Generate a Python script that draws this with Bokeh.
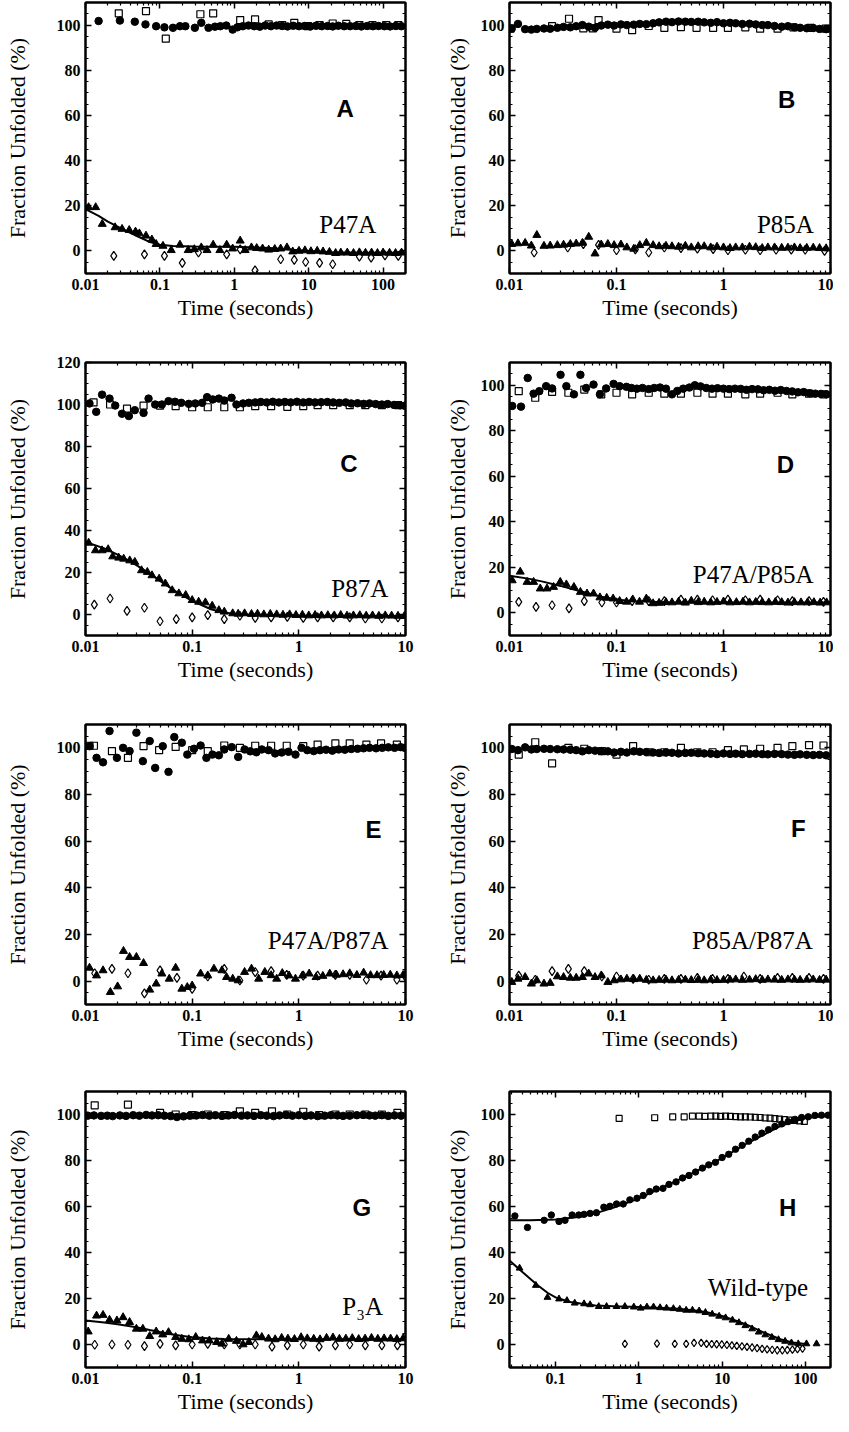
from bokeh.plotting import figure
from bokeh.models import (Range1d, LogAxis, LinearAxis, FixedTicker, SingleIntervalTicker,
                          CustomJSTickFormatter, Label)
from bokeh.layouts import column, row
from bokeh.embed import file_html
from bokeh.resources import INLINE

# ---------------- shared time grid (seconds) ----------------
t_grid = [0.0105, 0.012, 0.014, 0.016, 0.018, 0.021, 0.024, 0.028, 0.032, 0.037,
          0.042, 0.048, 0.055, 0.063, 0.072, 0.083, 0.095, 0.11, 0.125, 0.145,
          0.165, 0.19, 0.22, 0.25, 0.29, 0.33, 0.38, 0.44, 0.5, 0.58,
          0.66, 0.76, 0.87, 1.0, 1.15, 1.3, 1.5, 1.75, 2.0, 2.3,
          2.6, 3.0, 3.5, 4.0, 4.6, 5.2, 6.0, 6.9, 7.9, 9.1]

# ---------------- Panel A : P47A ----------------
cA_t = [0.015, 0.029, 0.046, 0.064, 0.089, 0.115, 0.15, 0.186, 0.22, 0.295, 0.36, 0.45, 0.55, 0.65, 0.78,
        0.95, 1.1, 1.3, 1.55, 1.85, 2.2, 2.6, 3.1, 3.7, 4.4, 5.2, 6.2, 7.4, 8.8, 10.5, 12.5, 15, 18, 21,
        25, 30, 36, 43, 51, 61, 73, 87, 104, 124, 148, 176]
cA_y = [101.8, 102, 101.5, 100.3, 99.5, 99, 98.8, 99.5, 99.5, 98.8, 101, 98.8, 99.3, 99.5, 99.8,
        98, 99, 99.5, 99.8, 99.5, 99.3, 99.8, 99.5, 99.8, 99.6, 99.4, 99.7, 99.5, 99.6, 99.4, 99.7, 99.5, 99.6, 99.4,
        99.7, 99.5, 99.5, 99.6, 99.4, 99.6, 99.5, 99.6, 99.5, 99.4, 99.6, 99.5]
sA_t = [0.028, 0.065, 0.12, 0.35, 0.52, 1.2, 1.9, 2.9, 4.4, 6.4, 9.8, 14, 21, 32, 48, 72, 110, 160]
sA_y = [105.2, 106.2, 94, 104.8, 105.2, 102.2, 102.5, 100.3, 100, 101, 99.5, 100, 100.7, 100.5, 100, 100, 100, 100]
tA_t = [0.011, 0.0137, 0.0168, 0.025, 0.031, 0.0387, 0.047, 0.053, 0.065, 0.078,
        0.089, 0.11, 0.142, 0.186, 0.24, 0.29, 0.36, 0.43, 0.52, 0.64,
        0.79, 0.95, 1.2, 1.4, 1.7, 2.0, 2.4, 2.9, 3.5, 4.2,
        5.1, 6.1, 7.4, 8.9, 10.7, 13, 15.6, 19, 23, 27,
        33, 40, 48, 58, 70, 84, 100, 122, 147, 177]
tA_y = [19.3, 19.3, 11.9, 10.4, 9.7, 9.2, 8.5, 7.7, 6.7, 5.0,
        3.0, 2.2, 0.3, 2.7, 0.3, 0.7, 1.5, 0.3, 2.7, 0.3,
        2.7, 1.0, 4.5, 0.3, 1.5, 1.2, 1.0, 0.5, 0.8, 1.0,
        1.5, -0.3, 0.0, 0.2, -0.2, 0.0, -0.3, -0.5, -1.0, -0.8,
        -0.8, -1.0, -0.7, -0.9, -0.8, -1.0, -0.8, -0.9, -1.0, -0.8]
dA_t = [0.024, 0.062, 0.115, 0.2, 0.33, 0.79, 1.2, 1.9, 4.2, 6.4, 9.1, 14, 21, 48, 69, 106, 160]
dA_y = [-2.2, -1.5, -2.2, -5.3, -0.7, -1.5, 0.7, -8.6, -3.7, -4.0, -4.9, -5.3, -5.9, -2.5, -3.0, -2.0, -2.2]
fA_t = [0.01, 0.015, 0.02, 0.03, 0.04, 0.05, 0.07, 0.1, 0.15, 0.3, 1, 3, 6, 10, 20, 50, 200]
fA_y = [18.5, 15.5, 13, 10, 8, 6.5, 4.2, 2.7, 2.2, 2, 1.8, 1.3, 0.5, 0, -0.6, -0.8, -0.8]

# ---------------- Panel B : P85A ----------------
cB_y = [98.5, 100.5, 98.2, 98.0, 98.3, 98.5, 98.4, 98.8, 99.2, 99.0,
        99.5, 100.0, 99.3, 98.8, 99.8, 100.2, 99.8, 100.3, 100.0, 100.2,
        100.5, 100.4, 100.8, 101.2, 101.5, 101.3, 101.6, 101.5, 101.4, 101.5,
        101.2, 101.0, 101.3, 100.8, 101.0, 100.8, 100.5, 100.6, 100.3, 100.0,
        100.0, 99.6, 99.3, 99.5, 99.0, 98.8, 98.6, 98.7, 98.3, 98.2]
sB_t = [0.0102, 0.025, 0.036, 0.049, 0.06, 0.068, 0.1, 0.14, 0.2, 0.28, 0.4, 0.56, 0.8, 1.1, 1.6, 2.2, 3.2, 4.5, 6.5, 9.0]
sB_y = [98.4, 99.5, 102.8, 98.5, 98.5, 102.2, 98.4, 97.8, 99.6, 98.8, 99.1, 98.8, 98.8, 98.8, 99.0, 98.4, 98.4, 99.0, 98.8, 98.4]
tB_y = [3.0, 3.3, 3.5, 2.3, 7.0, 2.2, 2.3, 2.5, 2.7, 3.0,
        3.2, 3.5, 6.2, -1.2, 2.8, 3.0, 2.5, 2.8, 1.5, 0.9,
        2.5, 3.5, 2.5, 2.0, 2.2, 2.0, 1.8, 2.2, 1.5, 2.0,
        2.0, 1.5, 1.8, 1.5, 1.2, 1.5, 1.5, 1.8, 1.6, 1.2,
        1.5, 1.5, 1.3, 1.4, 1.5, 1.2, 1.3, 1.4, 1.2, 1.1]
dB_t = [0.017, 0.035, 0.049, 0.068, 0.1, 0.15, 0.2, 0.28, 0.4, 0.57, 0.8, 1.1, 1.6, 2.2, 3.1, 4.3, 5.8, 8.8]
dB_y = [-0.7, 1.5, 3.0, 2.7, 0.3, 0.7, -0.7, 1.5, 1.2, 1.0, 0.8, 0.3, 0.5, 0.3, 0.5, 0.6, 0.5, 0.0]

# ---------------- Panel C : P87A ----------------
cC_t = [0.0109, 0.0126, 0.0143, 0.0168, 0.019, 0.022, 0.0255, 0.029, 0.035, 0.039, 0.045, 0.052, 0.06, 0.069,
        0.079, 0.093, 0.107, 0.124, 0.138, 0.156, 0.178, 0.2, 0.234, 0.26,
        0.3, 0.34, 0.39, 0.44, 0.5, 0.57, 0.65, 0.74, 0.84, 0.96, 1.1, 1.25, 1.42, 1.62, 1.85,
        2.1, 2.4, 2.75, 3.1, 3.55, 4.05, 4.6, 5.25, 6.0, 6.8, 7.8, 8.9, 9.8]
cC_y = [100.5, 96.5, 104.7, 102.8, 99.5, 95.6, 94.5, 97.3, 96, 102.8, 100, 100, 101.6, 101.3,
        100.8, 100.3, 100.5, 100.8, 103.5, 102.4, 102.8, 101.9, 103.2, 100,
        100.5, 100.8, 101, 101.2, 101, 101.3, 101, 101.2, 101, 101.3, 101, 101.2, 101, 101.1, 101.2,
        101, 100.8, 101, 100.5, 100.6, 100.3, 100.5, 100.2, 100, 100.2, 99.8, 99.6, 99.4]
sC_t = [0.0119, 0.017, 0.0245, 0.035, 0.05, 0.07, 0.1, 0.14, 0.2, 0.28, 0.39, 0.55, 0.78, 1.1, 1.5, 2.1, 3.0, 4.2, 6.0, 8.5]
sC_y = [101, 100, 98, 99.5, 99.5, 99.2, 98.7, 98.7, 98.7, 98.7, 99.2, 99.2, 98.9, 99.2, 99.7, 99.7, 99.7, 99.7, 99.7, 99.7]
tC_t = [0.0107, 0.0124, 0.0143, 0.0163, 0.018, 0.0205, 0.0228, 0.026, 0.029, 0.0335,
        0.038, 0.042, 0.049, 0.056, 0.065, 0.075, 0.087, 0.1, 0.115, 0.133,
        0.154, 0.178, 0.2, 0.24, 0.27, 0.31, 0.36, 0.41, 0.47, 0.54,
        0.62, 0.71, 0.82, 0.94, 1.08, 1.24, 1.42, 1.63, 1.87, 2.15,
        2.47, 2.83, 3.25, 3.73, 4.28, 4.91, 5.63, 6.46, 7.41, 8.5, 9.75]
tC_y = [34.1, 30.5, 30.5, 31, 27.6, 27, 26.5, 25.7, 25, 21,
        20.2, 18.6, 17, 14.7, 11.5, 10, 9.2, 6.8, 6, 5.7,
        4.1, 2, 1.3, 0.5, 0.3, 0.5, 0.2, 0.3, 0, 0.2,
        0, -0.2, 0, -0.3, -0.2, -0.5, -0.3, -0.5, -0.4, -0.5,
        -0.3, -0.6, -0.5, -0.4, -0.6, -0.5, -0.7, -0.5, -0.6, -0.7, -0.8]
dC_t = [0.0121, 0.017, 0.0245, 0.0357, 0.05, 0.071, 0.1, 0.14, 0.2, 0.28, 0.39, 0.55, 0.78, 1.1, 1.5, 2.1, 3.0, 4.2, 6.0, 8.5]
dC_y = [4.7, 7.6, 1.7, 3.2, -3.2, -2.2, -1.4, -0.3, -2.2, -0.6, -1.6, -1.4, -1.1, -1.6, -1.4, -1.4, -1.4, -1.9, -1.9, -1.4]
fC_t = [0.01, 0.015, 0.02, 0.03, 0.04, 0.05, 0.07, 0.1, 0.15, 0.2, 0.3, 1, 10]
fC_y = [34.5, 31.5, 28.5, 23.5, 19.5, 16, 11, 6.5, 2.5, 0.8, 0, -0.5, -0.7]

# ---------------- Panel D : P47A/P85A ----------------
cD_t = [0.0106, 0.0128, 0.0148, 0.0168, 0.019, 0.022, 0.025, 0.03, 0.034, 0.04,
        0.046, 0.052, 0.061, 0.07, 0.08, 0.094, 0.107, 0.124, 0.138, 0.155,
        0.175, 0.2, 0.225, 0.255, 0.29, 0.33, 0.37, 0.42, 0.48, 0.54,
        0.61, 0.69, 0.78, 0.88, 1.0, 1.13, 1.28, 1.45, 1.64, 1.85,
        2.1, 2.37, 2.68, 3.03, 3.43, 3.88, 4.39, 4.97, 5.62, 6.36, 7.2, 8.15, 9.2]
cD_y = [90.9, 90.6, 103.2, 96.3, 97.4, 99.6, 98.6, 104.6, 99.6, 96,
        104.6, 98.8, 100.3, 96, 98.6, 100.6, 99.6, 99.3, 98.8, 98.5,
        98.8, 98.3, 98.8, 99, 98.5, 96, 97.5, 98.5, 99, 100,
        99.5, 98.8, 98.5, 98.7, 98.5, 98.3, 98.5, 98.4, 98, 98.3,
        98.2, 97.8, 98, 97.6, 97.9, 97.5, 97.3, 96.9, 97, 96.5, 96.3, 96.2, 96]
sD_t = [0.0122, 0.0174, 0.025, 0.0355, 0.05, 0.072, 0.1, 0.14, 0.2, 0.28, 0.4, 0.57, 0.79, 1.1, 1.6, 2.2, 3.2, 4.4, 6.3, 8.6]
sD_y = [97.4, 94.5, 97.1, 96.7, 98.1, 96, 96.7, 96, 96.7, 96.3, 96.3, 96.7, 96.3, 96.3, 96, 96.3, 96.7, 96, 96.3, 96]
tD_t = [0.0106, 0.0126, 0.0146, 0.0168, 0.0194, 0.0224, 0.0258, 0.0298, 0.034, 0.04,
        0.046, 0.053, 0.061, 0.07, 0.081, 0.093, 0.107, 0.124, 0.142, 0.164,
        0.19, 0.22, 0.25, 0.29, 0.33, 0.38, 0.44, 0.5, 0.58, 0.66,
        0.76, 0.87, 1.0, 1.15, 1.32, 1.52, 1.75, 2.0, 2.3, 2.65,
        3.05, 3.5, 4.0, 4.6, 5.3, 6.1, 7.0, 8.0, 9.2]
tD_y = [14.2, 18, 13.5, 13.5, 10.6, 10.6, 11.3, 13.5, 12.4, 11.3,
        9.1, 8.4, 8.4, 6.7, 6.5, 6.2, 5.1, 4.8, 5.8, 4.8,
        6.2, 4.1, 4.3, 4.6, 4.5, 4.8, 4.4, 5.2, 4.6, 4.8,
        4.5, 4.7, 4.9, 4.5, 4.6, 4.8, 4.5, 4.7, 4.6, 4.5,
        4.7, 4.6, 4.4, 4.6, 4.5, 4.5, 4.6, 4.4, 4.5]
dD_t = [0.0122, 0.0177, 0.025, 0.036, 0.05, 0.073, 0.1, 0.14, 0.2, 0.28, 0.4, 0.57, 0.79, 1.1, 1.6, 2.2, 3.2, 4.4, 6.3, 8.6]
dD_y = [4.8, 2.6, 3.3, 1.9, 5.1, 4.5, 4.5, 5.1, 5.1, 5.1, 5.8, 5.8, 5.5, 5.8, 5.5, 5.8, 5.5, 5.1, 5.1, 4.8]
fD_t = [0.01, 0.015, 0.02, 0.03, 0.04, 0.05, 0.07, 0.1, 0.15, 0.3, 1, 10]
fD_y = [16.3, 15, 13.8, 11.8, 10.2, 9, 7.2, 5.8, 5, 4.6, 4.5, 4.5]

# ---------------- Panel E : P47A/P87A ----------------
cE_t = [0.0109, 0.0127, 0.0146, 0.0168, 0.0197, 0.0225, 0.0259, 0.03, 0.0345, 0.04,
        0.045, 0.053, 0.06, 0.068, 0.08, 0.09, 0.104, 0.12, 0.136, 0.155,
        0.178, 0.2, 0.235, 0.27, 0.31, 0.35, 0.4, 0.45, 0.52, 0.6,
        0.69, 0.8, 0.93, 1.06, 1.2, 1.38, 1.58, 1.8, 2.06, 2.36,
        2.7, 3.1, 3.55, 4.05, 4.6, 5.3, 6.05, 6.9, 7.9, 9.0, 9.8]
cE_y = [100.7, 95.7, 93.8, 107.2, 95.7, 100, 98.6, 106.5, 94.3, 102.9,
        91.4, 100.7, 89.7, 104.6, 102.2, 97.1, 99.6, 101, 95.7, 97.1,
        96.8, 99.3, 100.3, 96.1, 99.3, 98.5, 98.1, 99.3, 99, 97.6,
        98, 98.3, 97.1, 100, 99, 98.6, 99, 99.2, 98.8, 99.3,
        99.2, 99.5, 99.6, 99.8, 100, 99.8, 100, 100.2, 100, 100.3, 100]
sE_t = [0.0109, 0.012, 0.0177, 0.025, 0.035, 0.049, 0.07, 0.1, 0.14, 0.2, 0.28, 0.39, 0.55, 0.77, 1.1, 1.5, 2.2, 3.0, 4.3, 5.9, 8.3]
sE_y = [100.9, 100.9, 98.6, 95.7, 100.7, 99, 100.4, 99, 98.6, 101, 100, 100.9, 100.9, 100.9, 100.7, 101.4, 101.9, 101.9, 101.4, 101.9, 101.4]
tE_t = [0.0109, 0.0127, 0.0146, 0.0171, 0.02, 0.0227, 0.0259, 0.03, 0.035, 0.04,
        0.046, 0.052, 0.061, 0.07, 0.08, 0.09, 0.1, 0.12, 0.14, 0.16,
        0.19, 0.21, 0.24, 0.27, 0.31, 0.36, 0.42, 0.48, 0.55, 0.62,
        0.7, 0.81, 0.93, 1.08, 1.25, 1.45, 1.68, 1.95, 2.25, 2.6,
        3.0, 3.5, 4.05, 4.7, 5.4, 6.25, 7.2, 8.3, 9.5]
tE_y = [5.7, 2.4, 4.6, -4.7, -2.3, 12.9, 10.3, 10.3, 7.7, -3.7,
        -1.1, 3.2, 1, 5.7, -3.3, -2.6, -1.9, 3.2, 2.4, 5.3,
        4.6, 1.7, 1, 0.3, 3.9, 5.3, 1, 3.9, 2.5, 1,
        3.4, 2.4, 1, 2.4, 3.2, 1.7, 2.2, 3.2, 2.7, 2.9,
        3.3, 2.6, 3.6, 2.5, 2.5, 2.6, 2.7, 2.4, 2.6]
dE_t = [0.0122, 0.0177, 0.025, 0.0357, 0.05, 0.072, 0.1, 0.14, 0.2, 0.28, 0.39, 0.55, 0.77, 1.1, 1.5, 2.2, 3.0, 4.3, 5.9, 8.3, 9.8]
dE_y = [3.4, 5.3, 3.4, -5.2, 4.6, 1.4, -3.3, 2, 5.3, 0.3, 3.9, 4.3, 2.7, 2.4, 2.4, 2.7, 2.7, 0.6, 2.4, 0.6, 2.4]

# ---------------- Panel F : P85A/P87A ----------------
cF_y = [99.5, 99.0, 100.2, 99.3, 99.5, 99.6, 99.5, 99.4, 99.3, 99.2,
        99.0, 98.5, 99.0, 98.8, 98.6, 98.5, 98.0, 98.3, 98.0, 98.5,
        98.3, 98.2, 98.0, 97.8, 98.0, 97.9, 97.6, 97.8, 97.9, 97.7,
        97.6, 97.5, 97.3, 97.6, 97.4, 97.5, 97.3, 97.4, 97.5, 97.3,
        97.2, 97.4, 97.3, 97.1, 97.0, 97.2, 97.0, 96.9, 97.0, 96.8]
sF_t = [0.0122, 0.0174, 0.025, 0.0355, 0.05, 0.073, 0.1, 0.143, 0.2, 0.28, 0.4, 0.57, 0.79, 1.1, 1.55, 2.2, 3.2, 4.4, 6.3, 8.6]
sF_y = [97.1, 102.4, 93.3, 100, 99.6, 98.6, 97.1, 100.7, 98.1, 98.1, 100, 98.1, 98.1, 99, 99.3, 99.6, 100, 100.7, 101.2, 101]
tF_y = [-0.4, 1.0, 1.7, -1.1, 0.3, -1.1, -0.8, 2.0, 1.7, 1.4,
        1.4, 1.7, 3.2, 1.7, 2.4, -0.4, 0.3, 0.7, 1.0, 0.8,
        1.0, 0.5, 0.3, 0.5, 0.6, 0.3, 0.5, 0.6, 0.4, 0.5,
        0.3, 0.6, 0.4, 0.5, 0.6, 0.7, 0.5, 0.6, 0.8, 0.5,
        0.7, 0.6, 0.5, 0.7, 0.6, 0.5, 0.6, 0.7, 0.5, 0.6]
dF_t = [0.0122, 0.0174, 0.025, 0.0355, 0.05, 0.073, 0.1, 0.143, 0.2, 0.28, 0.4, 0.57, 0.79, 1.1, 1.55, 2.2, 3.2, 4.4, 6.3, 8.6]
dF_y = [2.4, 0.6, 4.3, 5.3, 4.3, 2, 2, 1, 0.6, 1, 1, 1.4, 1, 1, 2, 1, 1.4, 1.4, 1.4, 1]

# ---------------- Panel G : P3A ----------------
cG_y = [99.5, 99.6, 99.4, 99.5, 99.3, 99.6, 99.4, 99.7, 99.5, 99.8,
        99.6, 99.7, 99.5, 99.3, 98.9, 99.2, 99.5, 99.6, 99.8, 99.5,
        99.7, 99.4, 99.6, 99.8, 99.5, 99.6, 99.4, 99.7, 99.5, 99.3,
        99.6, 99.8, 99.5, 99.7, 99.4, 99.6, 99.3, 99.5, 99.7, 99.6,
        99.4, 99.5, 99.7, 99.8, 99.6, 99.5, 99.7, 99.4, 99.6, 99.5]
sG_t = [0.0122, 0.025, 0.05, 0.07, 0.1, 0.14, 0.2, 0.28, 0.39, 0.56, 0.78, 1.1, 1.55, 2.2, 3.0, 4.2, 6.0, 8.4]
sG_y = [104, 104.3, 100.7, 100, 99.7, 100, 99.7, 101.4, 100.7, 101.4, 100, 101.2, 99.7, 100, 100, 100, 100, 100.7]
tG_t = [0.0106, 0.0127, 0.0146, 0.0168, 0.0197, 0.0225, 0.0259, 0.03, 0.0345, 0.04,
        0.046, 0.053, 0.06, 0.07, 0.08, 0.093, 0.108, 0.125, 0.145, 0.17,
        0.19, 0.22, 0.26, 0.3, 0.34, 0.4, 0.45, 0.52, 0.6, 0.69,
        0.79, 0.91, 1.05, 1.2, 1.38, 1.58, 1.82, 2.09, 2.4, 2.76,
        3.17, 3.64, 4.18, 4.8, 5.5, 6.3, 7.25, 8.3, 9.5]
tG_y = [5.6, 12.5, 12.8, 10.7, 10.4, 11.8, 9.7, 6.8, 6.8, 3.6,
        5.6, 4.3, 5.3, 3.2, 2.4, 2.2, 3.2, 1.7, 1.7, 1,
        0.3, 2.4, 1.5, 0, 1, 3.9, 3.2, 2.5, 2.2, 2.8,
        2.5, 2.3, 3.1, 2.6, 2.4, 2.2, 2.8, 3.0, 2.4, 2.5,
        2.7, 2.3, 2.5, 2.8, 2.4, 2.6, 2.5, 2.3, 2.6]
dG_t = [0.0122, 0.0177, 0.025, 0.0357, 0.05, 0.07, 0.1, 0.14, 0.2, 0.28, 0.39, 0.56, 0.78, 1.1, 1.55, 2.2, 3.0, 4.2, 6.0, 8.4]
dG_y = [-0.1, 0, -0.1, -0.7, 0.3, -0.4, 0, 0.3, 0, 0, 0, -0.9, -0.4, 0, -0.9, -0.4, 0, -0.4, -0.4, -0.4]
fG_t = [0.01, 0.015, 0.02, 0.03, 0.04, 0.05, 0.07, 0.1, 0.15, 0.2, 0.5, 10]
fG_y = [10.4, 9.6, 8.8, 7.5, 6.3, 5.4, 4.1, 3.2, 2.6, 2.4, 2.3, 2.3]

# ---------------- Panel H : Wild-type ----------------
cH_t = [0.0325, 0.046, 0.073, 0.089, 0.11, 0.13, 0.158, 0.19, 0.22, 0.26,
        0.31, 0.38, 0.45, 0.54, 0.65, 0.78, 0.95, 1.13, 1.35, 1.62,
        1.95, 2.3, 2.8, 3.35, 4, 4.8, 5.8, 6.9, 8.3, 10,
        12, 14.5, 17.4, 20.9, 25, 30, 36, 43, 52, 62,
        75, 90, 108, 130, 156, 187]
cH_y = [55.9, 50.9, 54, 56.3, 53.5, 54, 56.3, 56.3, 56.6, 57,
        57.3, 59.7, 60.1, 61.1, 61.1, 62.9, 63.6, 64.8, 66.5, 67.6,
        67.9, 69.6, 70.7, 72.4, 73.5, 75, 76.7, 78.1, 79.2, 81.3,
        82.7, 84.9, 86.6, 88.4, 90.2, 91.9, 93.4, 94.8, 95.9, 96.9,
        97.9, 98.7, 99, 99.6, 99.7, 99.7]
fHc_t = [0.028, 0.05, 0.1, 0.2, 0.3, 0.5, 1, 2, 5, 10, 20, 50, 100, 200]
fHc_y = [54, 54, 54.3, 55.5, 57, 59.5, 63.5, 68.5, 75.5, 81, 87.5, 95, 98.5, 99.5]
sH_t = [0.58, 1.55, 2.55, 3.5, 4.4, 5.3, 6.2, 7.3, 8.4, 9.6, 11, 12.6, 14.5, 16.6, 19,
        21.8, 25, 28.6, 32.8, 37.6, 43, 49, 56, 65, 74, 85, 97]
sH_y = [98.3, 98.6, 99, 99, 99.3, 99.3, 99.2, 99.3, 99.3, 99.2, 99.3, 99.2, 99.1, 99, 99,
        98.9, 98.8, 98.7, 98.5, 98.4, 98.2, 98, 97.8, 97.6, 97.4, 97.2, 97]
tH_t = [0.037, 0.058, 0.08, 0.11, 0.137, 0.17, 0.22, 0.26, 0.33, 0.41,
        0.54, 0.68, 0.87, 1.05, 1.25, 1.5, 1.8, 2.15, 2.6, 3.1,
        3.7, 4.4, 5.3, 6.3, 7.6, 9.2, 11, 13.3, 15.9, 19,
        22.9, 27.5, 33, 39.6, 47.5, 57, 68, 82, 103, 136]
tH_y = [33.2, 25.7, 20.5, 19.8, 19.1, 18, 17.7, 17.3, 16.5, 16.5,
        16.5, 16.5, 16.3, 15.8, 16.3, 16.3, 16, 15.8, 15.6, 15.3,
        14.9, 14.9, 14.6, 13.9, 13.2, 12.3, 11.6, 10.6, 9.5, 8.2,
        6.8, 5.4, 4.2, 3.1, 2.1, 1.4, 0.7, 0.3, 0.3, 0.3]
fHt_t = [0.028, 0.04, 0.06, 0.08, 0.1, 0.15, 0.2, 0.3, 0.5, 1, 2, 3, 5, 7, 10, 15, 20, 30, 50, 70, 100]
fHt_y = [36.5, 31.5, 26, 22.5, 20.5, 18.5, 17.8, 17, 16.6, 16.3, 15.9, 15.5, 14.7, 13.8, 12.4, 10.2, 8.5, 5.6, 2.3, 0.9, 0.2]
dH_t = [0.68, 1.65, 2.7, 3.7, 4.6, 5.6, 6.5, 7.5, 8.6, 9.9, 11.4, 13.1, 15, 17.3, 19.9,
        22.9, 26.3, 30.2, 34.7, 39.9, 45.9, 52.8, 60.7, 69.8, 80.3, 92.3]
dH_y = [0.3, 0.4, 0.3, 0.3, 0.7, 0.7, 0.3, 0.2, 0.1, 0, -0.2, -0.4, -0.6, -0.8, -1.0,
        -1.3, -1.6, -1.9, -2.1, -2.3, -2.5, -2.5, -2.4, -2.2, -2.0, -1.8]

# ---------------- panel texts ----------------
letters = ["A", "B", "C", "D", "E", "F", "G", "H"]
letter_x = [31, 3.9, 2.95, 3.8, 5.0, 5.0, 3.9, 61]
letter_y = [63, 67, 72, 65, 65, 65.6, 59.4, 59.7]
names = ["P47A", "P85A", "P87A", "P47A/P85A", "P47A/P87A", "P85A/P87A", "P\u2083A", "Wild-type"]
name_x = [81, 7.0, 6.9, 6.95, 6.95, 6.85, 6.15, 108]
name_y = [11.9, 11.9, 12.3, 16.6, 17.5, 17.5, 16.4, 24.8]

SERIF = "Liberation Serif"
minor_log = [m * 10.0 ** k for k in range(-3, 3) for m in range(2, 10)]


def style_axis(ax, with_labels=False):
    ax.axis_line_width = 2
    ax.axis_line_color = "black"
    ax.major_tick_in = 6
    ax.major_tick_out = 0
    ax.minor_tick_in = 3
    ax.minor_tick_out = 0
    ax.major_tick_line_width = 1.5
    ax.minor_tick_line_width = 1.2
    ax.major_tick_line_color = "black"
    ax.minor_tick_line_color = "black"
    if with_labels:
        ax.major_label_text_font = SERIF
        ax.major_label_text_font_style = "bold"
        ax.major_label_text_font_size = "16px"
        ax.major_label_text_color = "black"
        ax.major_label_standoff = 5
        ax.axis_label_text_font = SERIF
        ax.axis_label_text_font_style = "normal"
        ax.axis_label_text_font_size = "22px"
        ax.axis_label_text_color = "black"
    else:
        ax.major_label_text_font_size = "0px"
        ax.major_label_standoff = 0
        ax.axis_label = None


def make_panel(idx, xmin, xmax, ymax, xmajor, width, height, bl, br, bt, bb, ystand):
    p = figure(width=width, height=height, x_axis_type="log",
               x_range=Range1d(xmin, xmax), y_range=Range1d(-10, ymax),
               output_backend="svg", toolbar_location=None,
               min_border_left=bl, min_border_right=br, min_border_top=bt, min_border_bottom=bb)
    p.grid.visible = False
    p.outline_line_color = "black"
    p.outline_line_width = 2
    p.background_fill_color = "white"
    p.border_fill_color = "white"

    xa = p.xaxis[0]
    xa.ticker = FixedTicker(ticks=xmajor, minor_ticks=minor_log)
    xa.formatter = CustomJSTickFormatter(code="return String(tick);")
    style_axis(xa, True)
    xa.axis_label = "Time (seconds)"
    xa.axis_label_standoff = 2

    ya = p.yaxis[0]
    ya.ticker = SingleIntervalTicker(interval=20, num_minor_ticks=4)
    style_axis(ya, True)
    ya.axis_label = "Fraction Unfolded (%)"
    ya.axis_label_standoff = ystand

    top = LogAxis(ticker=FixedTicker(ticks=xmajor, minor_ticks=minor_log),
                  formatter=CustomJSTickFormatter(code="return '';"))
    style_axis(top)
    p.add_layout(top, "above")
    right = LinearAxis(ticker=SingleIntervalTicker(interval=20, num_minor_ticks=4),
                       formatter=CustomJSTickFormatter(code="return '';"))
    style_axis(right)
    p.add_layout(right, "right")

    p.add_layout(Label(x=letter_x[idx], y=letter_y[idx], text=letters[idx],
                       text_font="Liberation Sans", text_font_style="bold", text_font_size="24px",
                       text_align="center", text_baseline="middle", text_color="black"))
    p.add_layout(Label(x=name_x[idx], y=name_y[idx], text=names[idx],
                       text_font=SERIF, text_font_size="25px",
                       text_align="right", text_baseline="middle", text_color="black"))
    return p


def add_series(p, circ, squ, tri, dia, fits, small=False):
    k = 0.85 if small else 1.0
    if circ:
        p.scatter(circ[0], circ[1], marker="circle", size=7.5 * k, color="black")
    if squ:
        p.scatter(squ[0], squ[1], marker="square", size=7 * k, fill_color=None,
                  line_color="black", line_width=1.2)
    if tri:
        p.scatter(tri[0], tri[1], marker="triangle", size=8 * k, color="black")
    if dia:
        p.scatter(dia[0], dia[1], marker="diamond", size=9 * k, fill_color=None,
                  line_color="black", line_width=1.2)
    for f in fits:
        p.line(f[0], f[1], line_color="black", line_width=2)


dec3 = [0.01, 0.1, 1, 10]
LW, RW = 417, 416

pA = make_panel(0, 0.01, 200, 110, [0.01, 0.1, 1, 10, 100], LW, 337, 85, 12, 2, 64, 24)
add_series(pA, (cA_t, cA_y), (sA_t, sA_y), (tA_t, tA_y), (dA_t, dA_y), [(fA_t, fA_y)])
pB = make_panel(1, 0.01, 10, 110, dec3, RW, 337, 92, 3, 2, 64, 8)
add_series(pB, (t_grid, cB_y), (sB_t, sB_y), (t_grid, tB_y), (dB_t, dB_y), [])

pC = make_panel(2, 0.01, 10, 120, dec3, LW, 360, 85, 12, 25, 62, 24)
add_series(pC, (cC_t, cC_y), (sC_t, sC_y), (tC_t, tC_y), (dC_t, dC_y), [(fC_t, fC_y)])
pD = make_panel(3, 0.01, 10, 110, dec3, RW, 360, 92, 3, 22, 61, 8)
add_series(pD, (cD_t, cD_y), (sD_t, sD_y), (tD_t, tD_y), (dD_t, dD_y), [(fD_t, fD_y)])

pE = make_panel(4, 0.01, 10, 110, dec3, LW, 360, 85, 12, 27, 53, 24)
add_series(pE, (cE_t, cE_y), (sE_t, sE_y), (tE_t, tE_y), (dE_t, dE_y), [])
pF = make_panel(5, 0.01, 10, 110, dec3, RW, 360, 92, 3, 27, 53, 8)
add_series(pF, (t_grid, cF_y), (sF_t, sF_y), (t_grid, tF_y), (dF_t, dF_y), [])

pG = make_panel(6, 0.01, 10, 110, dec3, LW, 359, 85, 12, 34, 47, 24)
add_series(pG, (t_grid, cG_y), (sG_t, sG_y), (tG_t, tG_y), (dG_t, dG_y), [(fG_t, fG_y)])
pH = make_panel(7, 0.028, 200, 110, [0.1, 1, 10, 100], RW, 359, 92, 3, 31, 43, 8)
add_series(pH, (cH_t, cH_y), (sH_t, sH_y), (tH_t, tH_y), (dH_t, dH_y),
           [(fHc_t, fHc_y), (fHt_t, fHt_y)], small=True)

layout = column(row(pA, pB), row(pC, pD), row(pE, pF), row(pG, pH))
open("out.html", "w").write(file_html(layout, INLINE))
